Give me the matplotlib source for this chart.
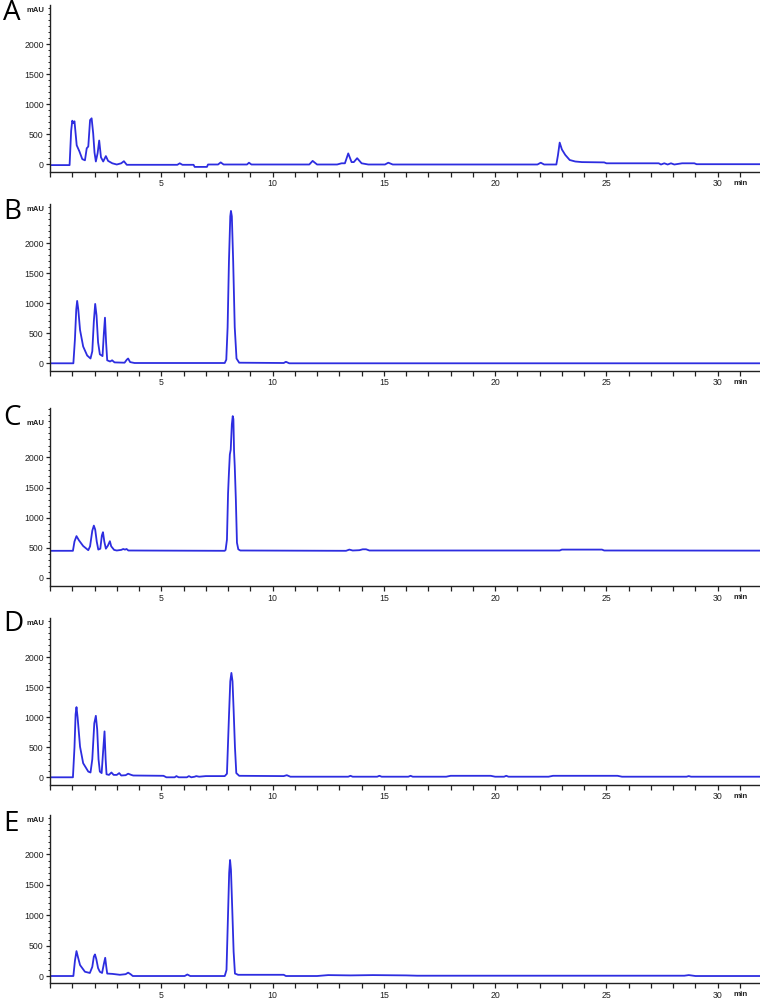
import matplotlib
matplotlib.use('Agg')
import matplotlib.pyplot as plt
from matplotlib.ticker import MultipleLocator, FixedLocator
import matplotlib.transforms as mtransforms

# (time in min, absorbance in mAU)
trace_a = [(0.0, -10), (0.88, -10), (0.95, 560), (1.0, 730), (1.05, 690), (1.1, 720),
           (1.2, 320), (1.32, 220), (1.45, 90), (1.57, 70), (1.65, 270), (1.72, 300),
           (1.8, 740), (1.87, 770), (1.94, 520), (2.0, 200), (2.06, 50), (2.14, 190),
           (2.21, 400), (2.29, 120), (2.39, 50), (2.51, 140), (2.61, 60), (2.8, 20),
           (3.0, 0), (3.2, 20), (3.32, 55), (3.45, -5), (5.72, -5), (5.83, 20), (5.95, -5),
           (6.45, -5), (6.5, -40), (7.05, -40), (7.1, 0), (7.55, 0), (7.67, 35), (7.8, 0),
           (8.85, 0), (8.94, 30), (9.05, 0), (11.65, 0), (11.8, 60), (12.0, 0), (12.9, 0),
           (13.1, 20), (13.25, 20), (13.4, 185), (13.55, 40), (13.65, 40), (13.8, 105),
           (14.0, 20), (14.3, 0), (15.05, 0), (15.2, 30), (15.4, 0), (21.9, 0), (22.05, 30),
           (22.2, 0), (22.75, 0), (22.82, 150), (22.9, 365), (23.0, 250), (23.15, 160),
           (23.35, 75), (23.6, 50), (23.9, 40), (24.9, 35), (25.0, 20), (27.35, 20),
           (27.45, 0), (27.6, 20), (27.75, 0), (27.9, 20), (28.05, 0), (28.4, 20),
           (28.95, 20), (29.05, 5), (31.9, 5)]

trace_b = [(0.0, 0), (1.05, 0), (1.12, 400), (1.18, 900), (1.22, 1040), (1.27, 900),
           (1.35, 555), (1.49, 280), (1.67, 130), (1.82, 80), (1.9, 200), (1.97, 700),
           (2.03, 990), (2.09, 800), (2.16, 350), (2.24, 150), (2.36, 120), (2.42, 500),
           (2.47, 760), (2.52, 350), (2.57, 50), (2.7, 30), (2.79, 50), (2.9, 15),
           (3.35, 10), (3.45, 60), (3.51, 80), (3.6, 20), (3.8, 5), (7.85, 5), (7.92, 60),
           (7.98, 600), (8.04, 1700), (8.1, 2450), (8.13, 2540), (8.17, 2450), (8.23, 1700),
           (8.3, 600), (8.38, 80), (8.5, 10), (10.5, 5), (10.6, 25), (10.75, 0), (31.9, 0)]

trace_c = [(0.0, 445), (1.03, 445), (1.1, 600), (1.19, 690), (1.3, 620), (1.49, 525),
           (1.72, 455), (1.8, 520), (1.9, 780), (1.97, 865), (2.03, 800), (2.1, 600),
           (2.17, 465), (2.26, 480), (2.33, 700), (2.38, 755), (2.44, 600), (2.51, 480),
           (2.6, 530), (2.69, 605), (2.75, 520), (2.88, 460), (3.0, 450), (3.2, 460),
           (3.29, 475), (3.37, 465), (3.44, 475), (3.52, 450), (7.85, 445), (7.89, 460),
           (7.95, 630), (8.0, 1400), (8.04, 1750), (8.08, 2050), (8.12, 2130), (8.17, 2550),
           (8.21, 2690), (8.24, 2640), (8.27, 2100), (8.3, 1860), (8.35, 1300), (8.4, 580),
           (8.46, 470), (8.55, 450), (13.3, 445), (13.45, 465), (13.6, 450), (13.9, 455),
           (14.05, 470), (14.2, 470), (14.35, 450), (22.9, 450), (23.0, 465), (24.8, 465),
           (24.9, 450), (31.9, 448)]

trace_d = [(0.0, 0), (1.03, 0), (1.1, 500), (1.15, 1050), (1.19, 1170), (1.24, 1000),
           (1.35, 510), (1.49, 235), (1.72, 95), (1.82, 80), (1.9, 300), (1.99, 900),
           (2.06, 1025), (2.12, 800), (2.18, 300), (2.24, 95), (2.32, 70), (2.39, 450),
           (2.45, 765), (2.5, 300), (2.54, 50), (2.65, 40), (2.76, 80), (2.86, 40),
           (3.0, 40), (3.11, 70), (3.2, 30), (3.4, 35), (3.51, 60), (3.65, 40), (3.74, 30),
           (5.1, 25), (5.23, 0), (5.6, 0), (5.68, 20), (5.78, 0), (6.15, 0), (6.24, 20),
           (6.35, 0), (6.5, 10), (6.57, 20), (6.7, 10), (7.0, 20), (7.85, 20), (7.95, 60),
           (8.04, 1010), (8.1, 1600), (8.15, 1740), (8.2, 1600), (8.25, 1125), (8.31, 500),
           (8.37, 70), (8.5, 25), (10.5, 20), (10.64, 35), (10.8, 10), (13.4, 10),
           (13.5, 25), (13.6, 10), (14.7, 10), (14.8, 25), (14.9, 10), (16.1, 10),
           (16.2, 25), (16.3, 10), (17.8, 10), (18.0, 25), (19.8, 25), (20.0, 10),
           (20.4, 10), (20.5, 25), (20.6, 10), (22.4, 10), (22.6, 25), (25.5, 25),
           (25.7, 10), (28.6, 10), (28.7, 20), (28.8, 10), (31.9, 10)]

trace_e = [(0.0, 0), (1.05, 0), (1.12, 250), (1.19, 410), (1.25, 320), (1.35, 180),
           (1.57, 70), (1.79, 50), (1.9, 150), (1.97, 320), (2.02, 355), (2.08, 280),
           (2.16, 130), (2.24, 70), (2.34, 50), (2.42, 200), (2.48, 300), (2.53, 150),
           (2.57, 40), (2.8, 35), (3.14, 20), (3.4, 30), (3.51, 55), (3.62, 30), (3.72, 0),
           (6.05, 0), (6.17, 25), (6.3, 0), (7.85, 0), (7.93, 100), (8.0, 1030),
           (8.05, 1700), (8.09, 1910), (8.13, 1750), (8.19, 1085), (8.25, 400), (8.31, 40),
           (8.45, 20), (10.5, 20), (10.6, 0), (12.0, 0), (12.5, 15), (13.5, 10), (14.5, 15),
           (16.0, 10), (16.5, 5), (28.5, 5), (28.7, 15), (29.0, 0), (31.9, 0)]

panel_labels = ['A', 'B', 'C', 'D', 'E']
traces = [trace_a, trace_b, trace_c, trace_d, trace_e]
y_major = [0, 500, 1000, 1500, 2000]

# axes boxes in pixels (top, bottom) and y-limits
boxes = [(5.5, 171.7), (204.3, 370.5), (407.7, 585.9), (618.3, 784.5), (815.0, 983.3)]
ylims = [(-120, 2650), (-120, 2650), (-140, 2830), (-120, 2650), (-120, 2650)]
letter_y = [13, 212, 418, 624, 824]

W, H = 760, 1000
fig = plt.figure(figsize=(W / 100, H / 100), dpi=100)
line_color = '#2d2de0'
tick_color = '#222222'
tick_font = 'Liberation Sans'

for label, trace, (top, bottom), ylim, ly in zip(panel_labels, traces, boxes, ylims, letter_y):
    left = 50
    ax = fig.add_axes([left / W, 1 - bottom / H, (W - left) / W, (bottom - top) / H])
    t = [p[0] for p in trace]
    v = [p[1] for p in trace]
    ax.plot(t, v, color=line_color, lw=1.3, solid_joinstyle='round')
    ax.set_xlim(0, 31.9)
    ax.set_ylim(*ylim)

    ax.spines['top'].set_visible(False)
    ax.spines['right'].set_visible(False)
    for s in ('left', 'bottom'):
        ax.spines[s].set_color(tick_color)
        ax.spines[s].set_linewidth(1.0)

    ax.xaxis.set_major_locator(FixedLocator([5, 10, 15, 20, 25, 30]))
    ax.xaxis.set_minor_locator(MultipleLocator(1))
    ax.yaxis.set_major_locator(FixedLocator(y_major))
    ax.yaxis.set_minor_locator(FixedLocator([y for y in range(0, int(ylim[1]), 100)
                                             if y not in y_major]))
    ax.tick_params(axis='x', which='both', direction='out', length=3.5, width=0.9,
                   color=tick_color, labelsize=6.3, labelcolor=tick_color, pad=2)
    ax.tick_params(axis='y', which='major', direction='out', length=3, width=0.9,
                   color=tick_color, labelsize=6.3, labelcolor=tick_color, pad=1.5)
    ax.tick_params(axis='y', which='minor', direction='out', length=1.8, width=0.7,
                   color=tick_color)
    for lab in ax.get_xticklabels() + ax.get_yticklabels():
        lab.set_family(tick_font)

    # unit labels
    off = mtransforms.offset_copy(ax.transData, fig=fig, x=-4, y=0, units='points')
    ax.text(0, 2560, 'mAU', transform=off, ha='right', va='center', fontsize=5.5,
            fontweight='bold', color=tick_color, family=tick_font)
    tr = mtransforms.blended_transform_factory(ax.transData, ax.transAxes)
    ax.text(31.05, -11.5 / (bottom - top), 'min', transform=tr, ha='center', va='center',
            fontsize=5.8, fontweight='bold', color=tick_color, family=tick_font)

    fig.text(3 / W, 1 - ly / H, label, ha='left', va='center', fontsize=20,
             family='Open Sans', color='black')

fig.savefig('out.png', dpi=100)
